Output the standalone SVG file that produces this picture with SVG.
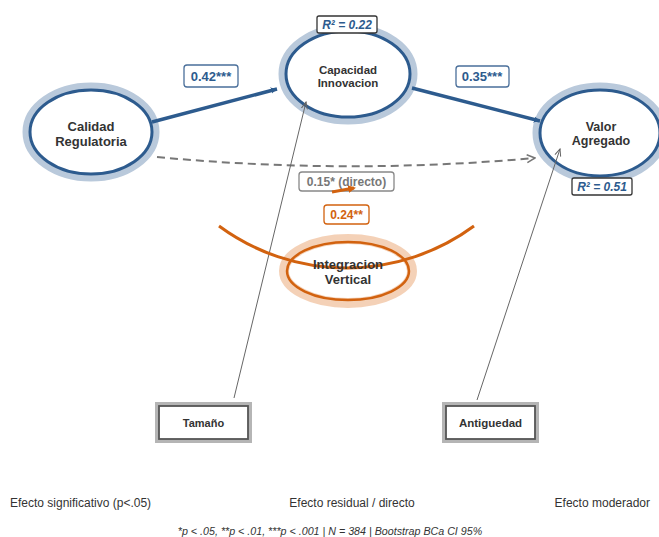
<svg xmlns="http://www.w3.org/2000/svg" width="659" height="537" viewBox="0 0 659 537">
<style>
text{font-family:"Liberation Sans",Arial,sans-serif}
.halo{fill:none;stroke:#b9c9db;stroke-width:9}
.lat{fill:#fff;stroke:#2d5b8e;stroke-width:3}
.nt{font-size:13px;font-weight:bold;fill:#333;text-anchor:middle}
.blab{fill:#fff;stroke:#4a6f9a;stroke-width:1.3}
.bt{font-size:13px;font-weight:bold;fill:#2d5b8e;text-anchor:middle}
.r2{fill:#fff;stroke:#333;stroke-width:1.3}
.r2t{font-size:12px;font-weight:bold;font-style:italic;fill:#2d5b8e;text-anchor:middle}
.ctl{fill:#fff;stroke:#b5b5b5;stroke-width:4}
.cti{fill:#fff;stroke:#555;stroke-width:1.8}
.leg{font-size:12px;fill:#333}
</style>
<defs>
<marker id="ab" markerWidth="8" markerHeight="8" refX="6" refY="4" orient="auto" markerUnits="userSpaceOnUse" viewBox="0 0 8 8"><path d="M0,0 L8,4 L0,8 Z" fill="#2d5b8e" transform="translate(-2,0)"/></marker>
<marker id="ag" markerWidth="10" markerHeight="10" refX="9" refY="5" orient="auto" markerUnits="userSpaceOnUse"><path d="M1,1 L9,5 L1,9" fill="none" stroke="#777" stroke-width="1.5"/></marker>
<marker id="at" markerWidth="8" markerHeight="8" refX="7" refY="4" orient="auto" markerUnits="userSpaceOnUse"><path d="M0,1 L7,4 L0,7" fill="none" stroke="#666" stroke-width="1"/></marker>
<marker id="ao" markerWidth="8" markerHeight="8" refX="6" refY="4" orient="auto" markerUnits="userSpaceOnUse"><path d="M0,0 L8,4 L0,8 Z" fill="#d2620f"/></marker>
</defs>

<g id="cr">
<ellipse class="halo" cx="91" cy="132" rx="64" ry="45"/>
<ellipse class="lat" cx="91" cy="132" rx="61" ry="42"/>
<text class="nt" x="91" y="131">Calidad</text>
<text class="nt" x="91" y="146">Regulatoria</text>
</g>
<g id="ci">
<ellipse class="halo" cx="348" cy="74" rx="65" ry="46"/>
<ellipse class="lat" cx="348" cy="74" rx="62" ry="43"/>
<text class="nt" x="348" y="74" style="font-size:11.5px">Capacidad</text>
<text class="nt" x="348" y="87" style="font-size:11.5px">Innovacion</text>
</g>
<g id="va">
<ellipse class="halo" cx="600" cy="133" rx="63" ry="46"/>
<ellipse class="lat" cx="600" cy="133" rx="60" ry="43"/>
<text class="nt" x="601" y="131" style="font-size:12.5px">Valor</text>
<text class="nt" x="601" y="145" style="font-size:12.5px">Agregado</text>
</g>
<g id="iv">
<ellipse cx="348" cy="271" rx="64" ry="32" fill="none" stroke="#f2c9aa" stroke-width="10" opacity="0.85"/>
<ellipse cx="348" cy="271" rx="61" ry="29" fill="none" stroke="#d2620f" stroke-width="2.5"/>
</g>

<g id="connectors">
<line x1="152" y1="122" x2="277" y2="89" stroke="#2d5b8e" stroke-width="3.5" marker-end="url(#ab)"/>
<line x1="412" y1="88" x2="540" y2="121" stroke="#2d5b8e" stroke-width="3.5" marker-end="url(#ab)"/>
<path d="M157,157 Q346,175 535,158" fill="none" stroke="#777" stroke-width="2" stroke-dasharray="8,5" marker-end="url(#ag)"/>
<line x1="234" y1="398" x2="306" y2="102" stroke="#666" stroke-width="1" marker-end="url(#at)"/>
<line x1="477" y1="400" x2="560" y2="149" stroke="#666" stroke-width="1" marker-end="url(#at)"/>
<path d="M219,226 A215,215 0 0 0 474,226" fill="none" stroke="#d2620f" stroke-width="3"/>
</g>

<g id="iv-label">
<text class="nt" x="348" y="269">Integracion</text>
<text class="nt" x="348" y="284">Vertical</text>
</g>

<g id="labels">
<rect class="blab" x="184" y="65" width="54" height="22" rx="3"/>
<text class="bt" x="211" y="81">0.42***</text>
<rect class="blab" x="456" y="66" width="53" height="21" rx="3"/>
<text class="bt" x="482" y="81">0.35***</text>
<rect class="r2" x="317" y="16" width="60" height="17" rx="2"/>
<text class="r2t" x="347" y="29">R² = 0.22</text>
<rect class="r2" x="572" y="178" width="60" height="17" rx="2"/>
<text class="r2t" x="602" y="191">R² = 0.51</text>
<rect x="299" y="172" width="95" height="19" rx="3" fill="#fff" stroke="#888" stroke-width="1.3"/>
<text x="346.5" y="186" style="font-size:12px;font-weight:bold;fill:#777;text-anchor:middle">0.15* (directo)</text>
<rect x="324" y="205" width="45" height="19" rx="3" fill="#fff" stroke="#d2620f" stroke-width="1.3"/>
<text x="346.5" y="219" style="font-size:12px;font-weight:bold;fill:#d2620f;text-anchor:middle">0.24**</text>
</g>

<g id="moderation-arrow">
<line x1="332" y1="192" x2="354" y2="188" stroke="#d2620f" stroke-width="3" marker-end="url(#ao)"/>
</g>

<g id="tam">
<rect class="ctl" x="157" y="404" width="93" height="37"/>
<rect class="cti" x="159" y="406" width="89" height="33"/>
<text class="nt" x="203.5" y="427" style="font-size:11px">Tamaño</text>
</g>
<g id="ant">
<rect class="ctl" x="444" y="404" width="93" height="37"/>
<rect class="cti" x="446" y="406" width="89" height="33"/>
<text class="nt" x="490.5" y="427" style="font-size:11.5px">Antiguedad</text>
</g>

<g id="legend">
<text class="leg" x="10" y="507">Efecto significativo (p&lt;.05)</text>
<text class="leg" x="352" y="507" text-anchor="middle">Efecto residual / directo</text>
<text class="leg" x="650" y="507" text-anchor="end">Efecto moderador</text>
<text class="leg" x="330" y="535" text-anchor="middle" font-style="italic" style="font-size:10.7px">*p &lt; .05, **p &lt; .01, ***p &lt; .001 | N = 384 | Bootstrap BCa CI 95%</text>
</g>
</svg>
